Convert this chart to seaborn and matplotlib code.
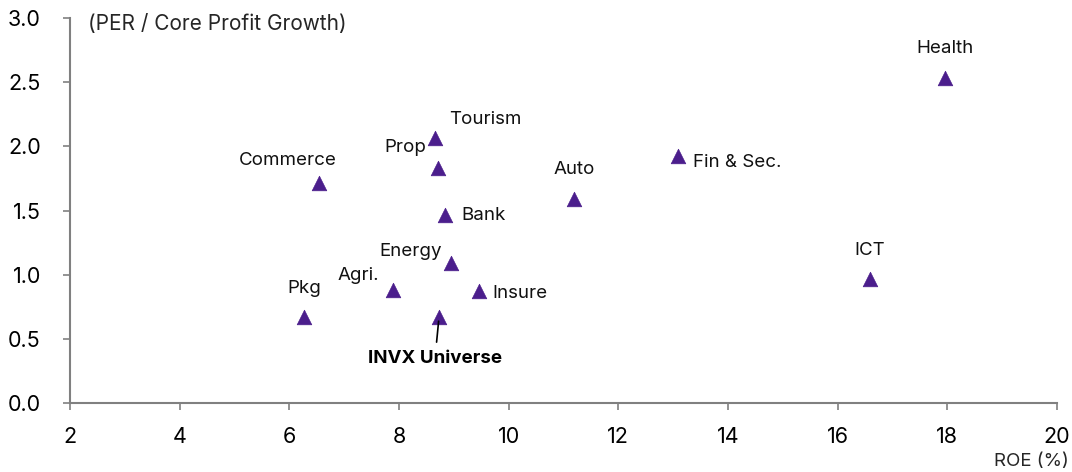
import pandas as pd
import matplotlib.pyplot as plt
import seaborn as sns

# Sector data
sectors = ['Commerce', 'Pkg', 'Agri.', 'Energy', 'INVX Universe', 'Insure', 'Bank',
           'Prop', 'Tourism', 'Auto', 'Fin & Sec.', 'Health', 'ICT']
roe = [6.54, 6.27, 7.89, 8.95, 8.73, 9.46, 8.84, 8.71, 8.66, 11.19, 13.09, 17.96, 16.59]
peg = [1.715, 0.67, 0.88, 1.09, 0.67, 0.87, 1.465, 1.83, 2.065, 1.59, 1.925, 2.53, 0.966]

df = pd.DataFrame({'Sector': sectors, 'ROE': roe, 'PEG': peg})

sns.set_style("white")
plt.rcParams['font.family'] = ['Inter', 'DejaVu Sans']

fig = plt.figure(figsize=(10.72, 4.72), dpi=100)
ax = fig.add_axes([0.0653, 0.146, 0.9207, 0.816])

purple = '#4b1e8c'
sns.scatterplot(data=df, x='ROE', y='PEG', marker='^', s=110, color=purple,
                edgecolor=purple, linewidth=0.5, ax=ax, zorder=3)

# label offsets in pixels (dx, dy, ha)
offsets = {
    'Commerce': (-31, 22, 'center'),
    'Pkg': (0, 29, 'center'),
    'Agri.': (-35, 15, 'center'),
    'Energy': (-40, 12, 'center'),
    'Insure': (13, -2, 'left'),
    'Bank': (16, 0, 'left'),
    'Prop': (-12, 21, 'right'),
    'Tourism': (14, 18, 'left'),
    'Auto': (0, 29, 'center'),
    'Fin & Sec.': (15, -7, 'left'),
    'Health': (0, 30, 'center'),
    'ICT': (0, 29, 'center'),
}
for _, r in df.iterrows():
    if r['Sector'] == 'INVX Universe':
        ax.annotate('INVX Universe', xy=(r['ROE'], r['PEG']), xytext=(-4, -41),
                    textcoords='offset pixels', ha='center', va='center',
                    fontsize=13.5, fontweight='bold', color='black',
                    arrowprops=dict(arrowstyle='-', color='black', lw=1.2,
                                    shrinkA=3, shrinkB=3))
        continue
    dx, dy, ha = offsets[r['Sector']]
    ax.annotate(r['Sector'], xy=(r['ROE'], r['PEG']), xytext=(dx, dy),
                textcoords='offset pixels', ha=ha, va='center', fontsize=13.5,
                color='#111111')

ax.set_xlim(2, 20)
ax.set_ylim(0, 3)
ax.set_xticks(range(2, 21, 2))
ax.set_yticks([0, 0.5, 1.0, 1.5, 2.0, 2.5, 3.0])
ax.set_yticklabels([f'{v:.1f}' for v in [0, 0.5, 1.0, 1.5, 2.0, 2.5, 3.0]])
ax.set_xlabel('')
ax.set_ylabel('')
ax.tick_params(axis='both', labelsize=15.5, colors='#808080', labelcolor='black',
               length=5, width=1.2, direction='out', left=True, bottom=True)
ax.tick_params(axis='x', pad=12)
ax.tick_params(axis='y', pad=16)
sns.despine(ax=ax)
for side in ['left', 'bottom']:
    ax.spines[side].set_color('#808080')
    ax.spines[side].set_linewidth(1.5)

ax.text(0.018, 0.985, '(PER / Core Profit Growth)', transform=ax.transAxes,
        ha='left', va='center', fontsize=15)
fig.text(0.997, 0.022, 'ROE (%)', ha='right', va='center', fontsize=13.5)

plt.savefig('out.png', dpi=100)
